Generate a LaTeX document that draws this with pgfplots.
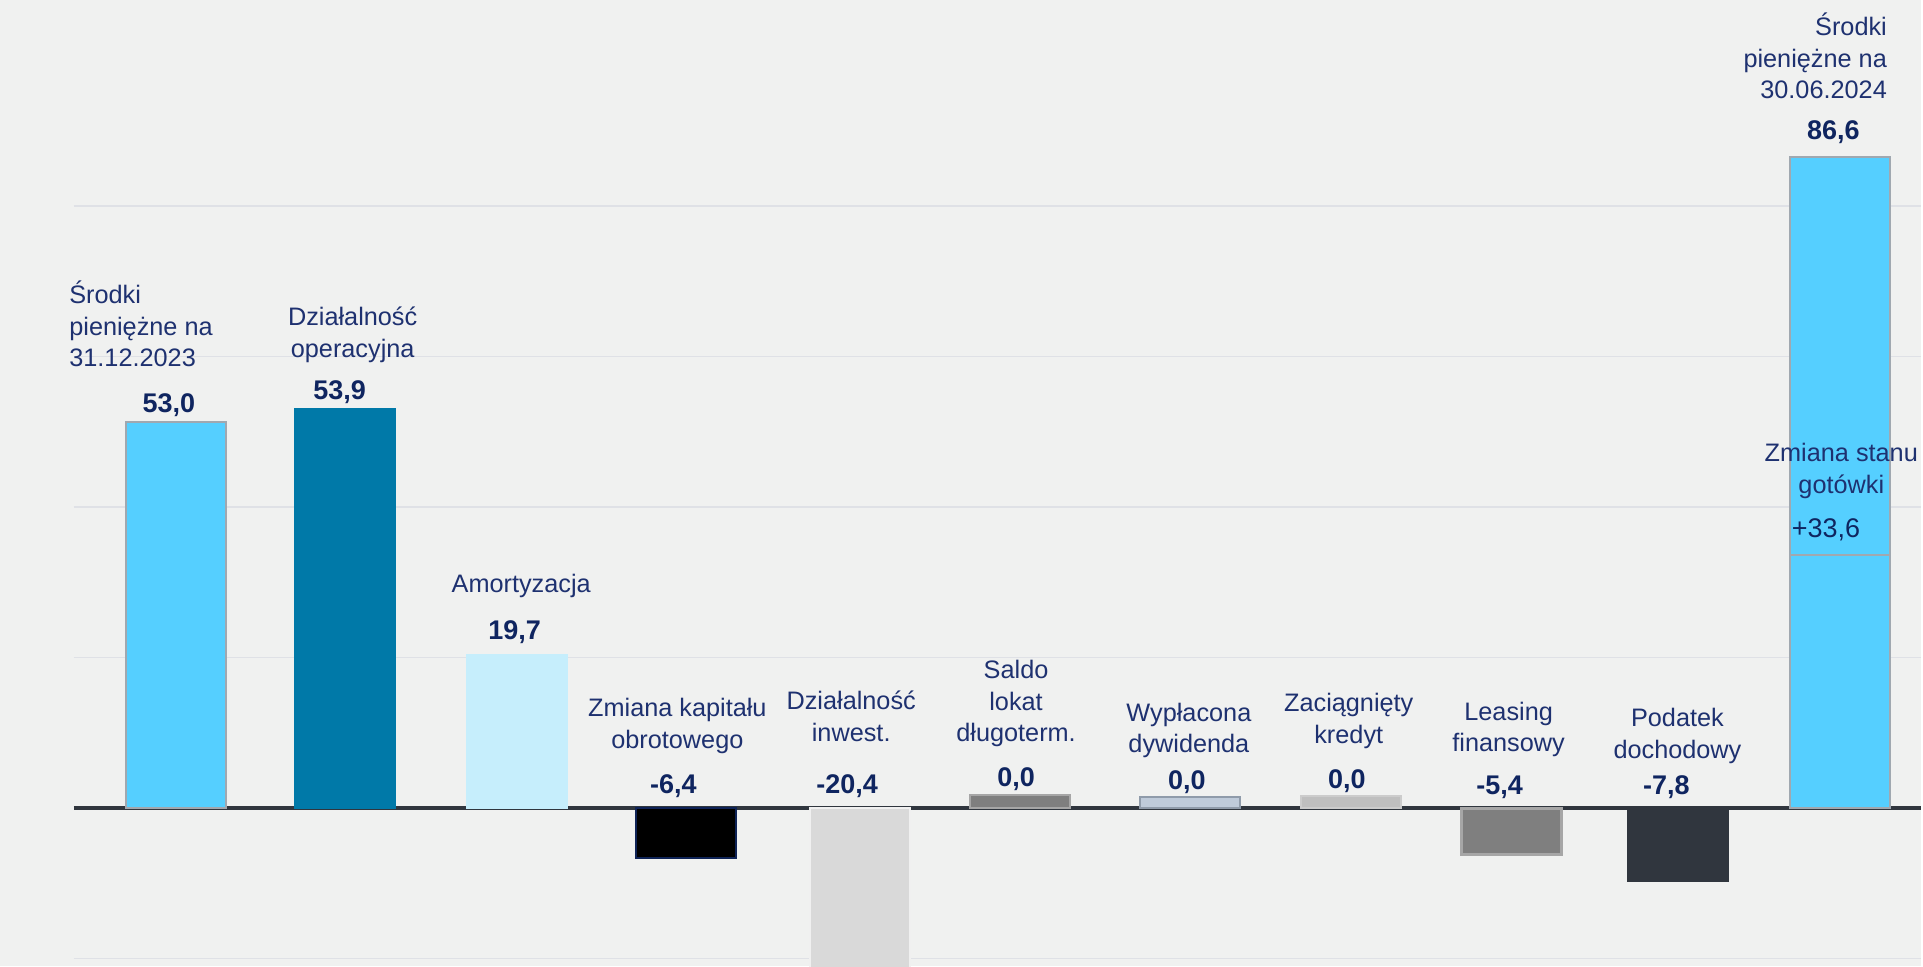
\documentclass[border=0pt]{standalone}
\usepackage{fontspec}
\setmainfont{Liberation Sans}
\usepackage{pgfplots}
\pgfplotsset{compat=1.18}

\definecolor{bg}{HTML}{F0F1F0}
\definecolor{gridc}{HTML}{DFE1E6}
\definecolor{zeroline}{HTML}{30363E}
\definecolor{lblc}{HTML}{1E3170}
\definecolor{valc}{HTML}{0F2560}
\definecolor{cyanb}{HTML}{55CFFF}
\definecolor{cyanedge}{HTML}{A0A8B0}
\definecolor{tealb}{HTML}{0079A8}
\definecolor{paleb}{HTML}{C6EEFC}
\definecolor{navyedge}{HTML}{0E2356}
\definecolor{lgray}{HTML}{D9D9D9}
\definecolor{mgray}{HTML}{7F7F7F}
\definecolor{mgrayedge}{HTML}{A6A6A6}
\definecolor{bluegray}{HTML}{BFCBDA}
\definecolor{bluegrayedge}{HTML}{8F9BAA}
\definecolor{sgray}{HTML}{BFBFBF}
\definecolor{slate}{HTML}{30363E}

\tikzset{
  lbl/.style={inner sep=0pt, text=lblc, font=\fontsize{12.65}{15}\selectfont},
  val/.style={inner sep=0pt, text=valc, font=\fontsize{13.5}{16}\selectfont\bfseries},
}

\begin{document}
\begin{tikzpicture}
\fill[bg] (0,0) rectangle (961.5pt,483.5pt);
\begin{axis}[
  at={(37pt,0pt)}, anchor=south west,
  scale only axis, width=924.5pt, height=483.5pt,
  xmin=74, xmax=1923, ymin=-20.98, ymax=107.4,
  axis line style={draw=none},
  xtick=\empty, ytick={-20,20,40,60,80}, yticklabels={},
  major tick length=0pt,
  ymajorgrids, grid style={line width=0.7pt, color=gridc},
  extra y ticks={0}, extra y tick labels={},
  extra y tick style={grid style={line width=1.8pt, color=zeroline}},
  every axis plot/.append style={ybar, bar width=50pt, bar shift=0pt, line width=1pt},
]
% x = bar centre in pixels of the original chart; heights as drawn there
% (the original bars are not exactly to scale with their labels)
\addplot[fill=cyanb, draw=cyanedge] coordinates {(176,51.3)};
\addplot[fill=tealb, draw=tealb] coordinates {(345,53.1)};
\addplot[fill=paleb, draw=paleb] coordinates {(517.5,20.4)};
\addplot[fill=black, draw=navyedge] coordinates {(687,-6.6)};
\addplot[fill=lgray, draw=white!60!lgray] coordinates {(861,-21.5)};
% zero items are drawn as thin stubs
\addplot[fill=mgray, draw=mgrayedge] coordinates {(1021,1.7)};
\addplot[fill=bluegray, draw=bluegrayedge] coordinates {(1191,1.45)};
\addplot[fill=sgray, draw=sgray!80!white] coordinates {(1352,1.6)};
\addplot[fill=mgray, draw=mgrayedge, line width=1.5pt] coordinates {(1513,-6.2)};
\addplot[fill=slate, draw=slate] coordinates {(1679.5,-9.7)};
% closing balance: 53.0 start + 33.6 change
\addplot[fill=cyanb, draw=cyanedge] coordinates {(1841.5,86.5)};
\addplot[fill=cyanb, draw=cyanedge] coordinates {(1841.5,33.6)};
\end{axis}

\begin{scope}[shift={(0,483.5pt)}, x=0.5pt, y=-0.5pt]
% category labels
\node[lbl, anchor=base west] at (69,304) {Środki};
\node[lbl, anchor=base west] at (69,335.5) {pieniężne na};
\node[lbl, anchor=base west] at (69,367) {31.12.2023};
\node[lbl, anchor=base] at (353,326) {Działalność};
\node[lbl, anchor=base] at (353,358) {operacyjna};
\node[lbl, anchor=base] at (521.7,593) {Amortyzacja};
\node[lbl, anchor=base] at (678,717) {Zmiana kapitału};
\node[lbl, anchor=base] at (678,749) {obrotowego};
\node[lbl, anchor=base] at (852,710) {Działalność};
\node[lbl, anchor=base] at (852,742) {inwest.};
\node[lbl, anchor=base] at (1017,679) {Saldo};
\node[lbl, anchor=base] at (1017,711) {lokat};
\node[lbl, anchor=base] at (1017,742) {długoterm.};
\node[lbl, anchor=base] at (1190,722) {Wypłacona};
\node[lbl, anchor=base] at (1190,753) {dywidenda};
\node[lbl, anchor=base] at (1350,712) {Zaciągnięty};
\node[lbl, anchor=base] at (1350,744) {kredyt};
\node[lbl, anchor=base] at (1510,721) {Leasing};
\node[lbl, anchor=base] at (1510,752) {finansowy};
\node[lbl, anchor=base] at (1679,727) {Podatek};
\node[lbl, anchor=base] at (1679,759) {dochodowy};
\node[lbl, anchor=base east] at (1889,36) {Środki};
\node[lbl, anchor=base east] at (1889,68) {pieniężne na};
\node[lbl, anchor=base east] at (1889,99) {30.06.2024};
\node[lbl, anchor=base] at (1843,462) {Zmiana stanu};
\node[lbl, anchor=base] at (1843,494) {gotówki};
% value labels
\node[val, anchor=base] at (169,413) {53,0};
\node[val, anchor=base] at (340,400) {53,9};
\node[val, anchor=base] at (515,640) {19,7};
\node[val, anchor=base] at (674,794) {-6,4};
\node[val, anchor=base] at (848,794) {-20,4};
\node[val, anchor=base] at (1017,787) {0,0};
\node[val, anchor=base] at (1188,790) {0,0};
\node[val, anchor=base] at (1348,789) {0,0};
\node[val, anchor=base] at (1501,795) {-5,4};
\node[val, anchor=base] at (1668,795) {-7,8};
\node[val, anchor=base] at (1835,140) {86,6};
\node[lbl, anchor=base west, font=\fontsize{13.5}{16}\selectfont, text=valc] at (1793,538) {+33,6};
\end{scope}
\end{tikzpicture}
\end{document}
